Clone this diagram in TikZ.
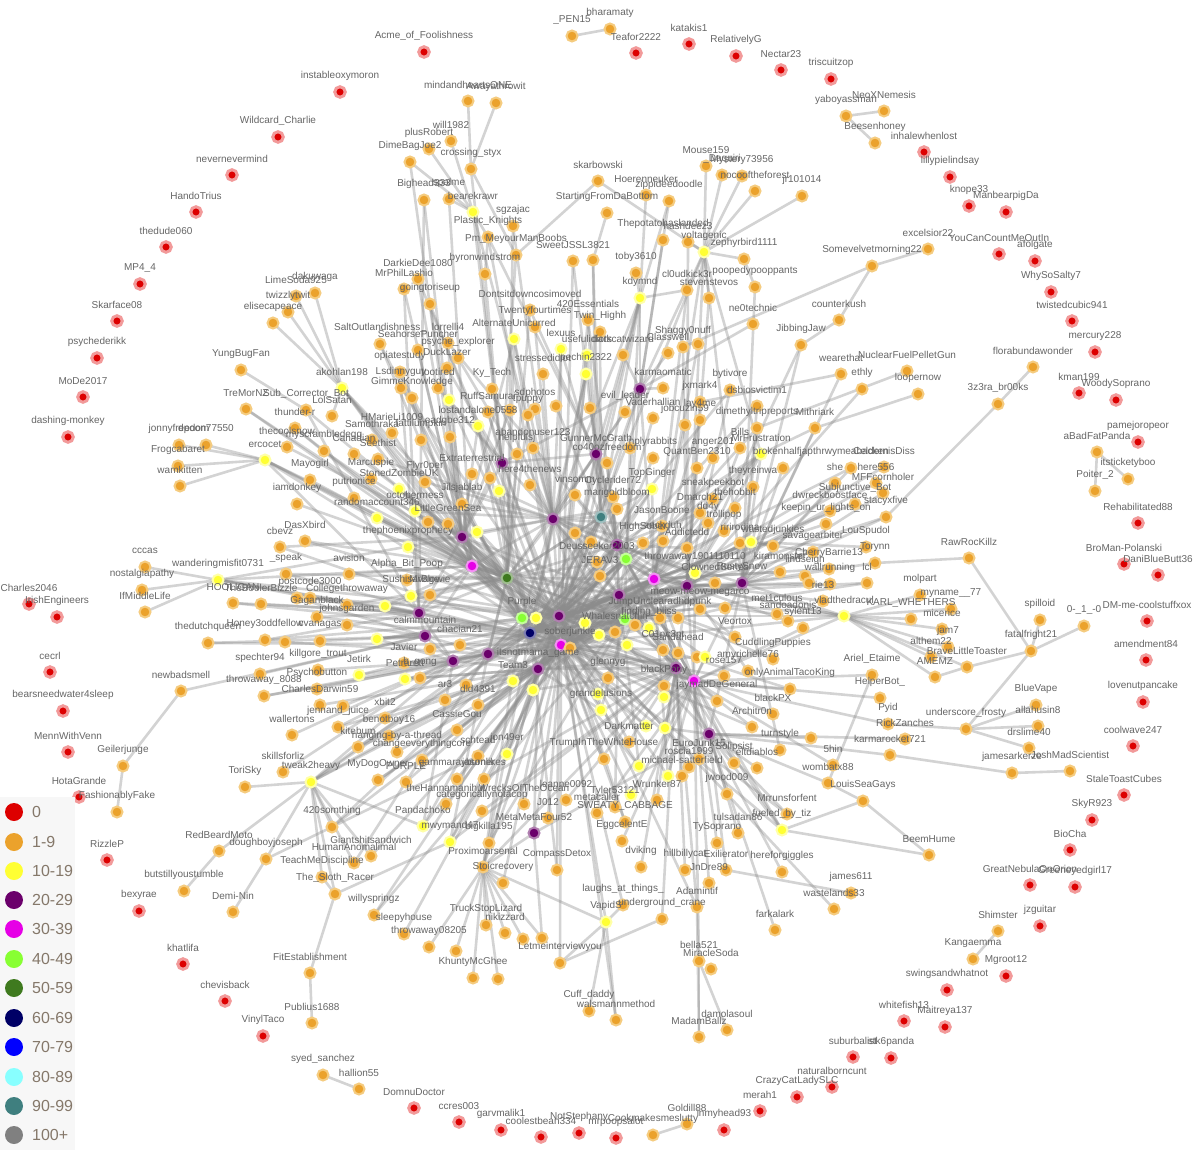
\documentclass[tikz,border=0pt]{standalone}
\usepackage{fontspec}
\setmainfont{Liberation Sans}
\definecolor{cR}{HTML}{DD0000}\definecolor{cRh}{HTML}{F29A9A}
\definecolor{cO}{HTML}{EBA22C}\definecolor{cOh}{HTML}{F5CC80}
\definecolor{cY}{HTML}{FFFF33}\definecolor{cYh}{HTML}{FFFFA8}
\definecolor{cP}{HTML}{6B006B}\definecolor{cPh}{HTML}{B07FB0}
\definecolor{cM}{HTML}{E600E6}\definecolor{cMh}{HTML}{F390F3}
\definecolor{cG}{HTML}{88FF33}\definecolor{cGh}{HTML}{C4FF99}
\definecolor{cD}{HTML}{3F7A1F}\definecolor{cDh}{HTML}{9FBD8F}
\definecolor{cN}{HTML}{000066}\definecolor{cNh}{HTML}{7F7FB2}
\definecolor{cT}{HTML}{3F7F7F}\definecolor{cTh}{HTML}{9FBFBF}
\definecolor{cB}{HTML}{0000FF}\definecolor{cC}{HTML}{88FFFF}\definecolor{cGr}{HTML}{808080}
\definecolor{labc}{HTML}{666666}\definecolor{legc}{HTML}{85786A}
\pgfdeclarelayer{edgelayer}\pgfdeclarelayer{labellayer}
\pgfsetlayers{edgelayer,main,labellayer}
\tikzset{
 nd/.style={circle,inner sep=0pt,minimum size=11pt,line width=2pt},
 ndR/.style={nd,fill=cR,draw=cRh,minimum size=10.5pt,line width=3pt},
 ndO/.style={nd,fill=cO,draw=cOh},
 ndY/.style={nd,fill=cY,draw=cYh},
 ndP/.style={nd,fill=cP,draw=cPh},
 ndM/.style={nd,fill=cM,draw=cMh},
 ndG/.style={nd,fill=cG,draw=cGh},
 ndD/.style={nd,fill=cD,draw=cDh},
 ndN/.style={nd,fill=cN,draw=cNh},
 ndT/.style={nd,fill=cT,draw=cTh},
 edge/.style={draw=black!45,opacity=0.38,line width=2.6pt},
 lab/.style={text=labc,font=\fontsize{10}{10}\selectfont,inner sep=0pt},
 legdot/.style={circle,inner sep=0pt,minimum size=18pt},
 legtxt/.style={text=legc,font=\fontsize{16}{16}\selectfont,anchor=west,inner sep=0pt}
}
\newcommand{\drawN}[6]{\node[nd#4] (#1) at (#2,#3) {};}
\newcommand{\edgeN}[6]{\if\relax\detokenize{#6}\relax\else\foreach \hh in {#6}{\draw[edge] (#1.center) -- (\hh.center);}\fi}
\newcommand{\labN}[6]{\if\relax\detokenize{#5}\relax\else\node[lab] (#1t) at (#2,#3-16) {#5};\fi}
\newcommand{\E}[2]{\foreach \hh in {#2}{\draw[edge] (#1.center) -- (\hh.center);}}
\newcommand{\extraedges}{%
\E{c1}{q98,q102,q105,q135,y9,y10,q139,q151,c20,c22,c4,c7,c10,c21,c12}
\E{c3}{q141,y8,c5,c6,c16,c9,c10,q145,y11,q150}
\E{c4}{c8,c9,c10,c11,c27,y9,y12,q155,c21}
\E{c7}{c10,c11,c12,c13,c21,c25,c26,q139}
\E{c8}{c3,c12,c13,c19,c20,c22,c4,c5,y8}
\E{c9}{c3,c4,c5,c6,c11,c12,c20,c21,c22}
\E{c10}{c3,c4,c7,c19,c20,c22,c13}
\E{c11}{c19,c20,c3,c9,c22,c25,c27}
\E{c16}{c7,c8,c9,c10,c22,c21,c3,c20}
\E{c18}{c8,c9,c10,c21,c22,c3,c4,c7}
\E{c19}{c8,c9,c10,c11,c21,c22}
\E{c20}{c7,c8,c9,c10,c21,c4,c5}
\E{c22}{c9,c10,c21,c25}
\E{c27}{c7,c22,c4,c3,c20}
\E{c25}{c8,c9,c11,c21,c22}
\E{c13}{c8,c9,c21,c22,c10}
\E{c12}{c8,c9,c10,c21,c22}
\E{c2}{c8,c9,c20,c11}
\E{c14}{c11,c8,c10}
\E{c15}{c8,c20,c4}
\E{c5}{c8,c10,c9,c21}
\E{c6}{c8,c9,c10,c22}
\E{yA}{c8,c10}\E{yB}{c8,c9}\E{yC}{c8,c9,c10}\E{yD}{c10,c22}
\E{yE}{c8,c4}\E{yG}{c8,c9,c20}\E{yH}{c8,c9,c16}\E{yI}{c8,c9}
\E{yJ}{c8,c9}\E{yK}{c9,c16}\E{yM}{c8}\E{yN}{c10}\E{s1}{c10,c21}
\E{q165}{c8}\E{q168}{c9}\E{q188}{c8}\E{q189}{c10}\E{q192}{c9}\E{q196}{c8}
\E{q199}{c10}\E{q204}{c9}\E{q207}{c8}\E{q208}{c9}\E{q31}{c8}\E{q33}{c9}
\E{q39}{c10}\E{q43}{c21}\E{q45}{c8}\E{q49}{c9}\E{q40}{c20}\E{q84}{c8}
\E{q86}{c9}\E{q90}{c10}\E{q110}{c8}\E{q113}{c9}\E{q116}{c10}\E{q60}{c8}
\E{q72}{c9}\E{q59}{c10}\E{q35}{c8}\E{q14}{c9}\E{q10}{c11}\E{q09}{c8}
\E{q220}{c9}\E{q230}{c8}\E{q233}{c10}\E{q238}{c22}\E{q250}{c8}\E{q255}{c22}
\E{q278}{c8}\E{q282}{c9}\E{q284}{c8}\E{q288}{c10}\E{q292}{c9}\E{q300}{c8}
\E{q265}{c10}\E{q269}{c8}\E{q274}{c10}\E{q291}{c8}\E{q264}{c22}\E{q226}{c4}
\E{y27}{c4,c10}\E{y28}{c22}\E{y29}{c10}\E{y30}{c8}\E{y23}{c10}\E{y24}{c8}
\E{y19}{c9}\E{y20}{c8}\E{y14}{c10}\E{y15}{c9}\E{y16}{c10}\E{y17}{c9}
\E{y1}{c8}\E{y2}{c9}\E{y3}{c10}\E{y4}{c8}\E{y5}{c9}\E{y6}{c10}\E{y7}{c8}
}
\newcommand{\nodelist}{%
% outer ring
\N{r01}{424}{52}{R}{Acme\_of\_Foolishness}{}
\N{r02}{340}{92}{R}{instableoxymoron}{}
\N{r03}{278}{137}{R}{Wildcard\_Charlie}{}
\N{r04}{232}{175}{R}{nevernevermind}{}
\N{r05}{196}{212}{R}{HandoTrius}{}
\N{r06}{166}{247}{R}{thedude060}{}
\N{r07}{140}{284}{R}{MP4\_4}{}
\N{r08}{117}{321}{R}{Skarface08}{}
\N{r09}{97}{358}{R}{psychederikk}{}
\N{r10}{83}{397}{R}{MoDe2017}{}
\N{r11}{68}{437}{R}{dashing-monkey}{}
\N{r12}{29}{604}{R}{Charles2046}{}
\N{r13}{57}{617}{R}{IrishEngineers}{}
\N{r14}{50}{672}{R}{cecrl}{}
\N{r15}{63}{711}{R}{bearsneedwater4sleep}{}
\N{r16}{68}{752}{R}{MennWithVenn}{}
\N{r17}{79}{797}{R}{HotaGrande}{}
\N{r18}{107}{860}{R}{RizzleP}{}
\N{r19}{139}{911}{R}{bexyrae}{}
\N{r20}{183}{964}{R}{khatlifa}{}
\N{r21}{225}{1001}{R}{chevisback}{}
\N{r22}{263}{1036}{R}{VinylTaco}{}
\N{r23}{414}{1108}{R}{DomnuDoctor}{}
\N{r24}{459}{1122}{R}{ccres003}{}
\N{r25}{501}{1130}{R}{garvmalik1}{}
\N{r26}{541}{1137}{R}{coolestbean334}{}
\N{r27}{579}{1133}{R}{NotStephany}{}
\N{r28}{616}{1138}{R}{mrpoopsalot}{}
\N{r29}{724}{1130}{R}{inmyhead93}{}
\N{r30}{760}{1111}{R}{merah1}{}
\N{r31}{797}{1097}{R}{CrazyCatLadySLC}{}
\N{r32}{832}{1087}{R}{naturalborncunt}{}
\N{r33}{853}{1057}{R}{suburbalist}{}
\N{r34}{891}{1058}{R}{stk6panda}{}
\N{r35}{904}{1021}{R}{whitefish13}{}
\N{r36}{945}{1027}{R}{Maitreya137}{}
\N{r37}{947}{990}{R}{swingsandwhatnot}{}
\N{r38}{1006}{976}{R}{Mgroot12}{}
\N{r39}{1040}{926}{R}{jzguitar}{}
\N{r40}{1030}{885}{R}{GreatNebulaOnOrion}{}
\N{r41}{1075}{887}{R}{Greeneyedgirl17}{}
\N{r42}{1070}{850}{R}{BioCha}{}
\N{r43}{1092}{820}{R}{SkyR923}{}
\N{r44}{1124}{795}{R}{StaleToastCubes}{}
\N{r45}{1133}{746}{R}{coolwave247}{}
\N{r46}{1143}{702}{R}{lovenutpancake}{}
\N{r47}{1146}{660}{R}{amendment84}{}
\N{r48}{1147}{621}{R}{DM-me-coolstuffxox}{}
\N{r49}{1158}{575}{R}{DaniBlueButt36}{}
\N{r50}{1124}{564}{R}{BroMan-Polanski}{}
\N{r51}{1138}{523}{R}{Rehabilitated88}{}
\N{r52}{1138}{442}{R}{pamejoropeor}{}
\N{r53}{1116}{400}{R}{WoodySoprano}{}
\N{r54}{1079}{393}{R}{kman199}{}
\N{r55}{1095}{352}{R}{mercury228}{}
\N{r56}{1072}{321}{R}{twistedcubic941}{}
\N{r57}{1051}{292}{R}{WhySoSalty7}{}
\N{r58}{1035}{261}{R}{afolgate}{}
\N{r59}{999}{254}{R}{YouCanCountMeOutIn}{}
\N{r60}{1006}{212}{R}{ManbearpigDa}{}
\N{r61}{969}{206}{R}{knope33}{}
\N{r62}{950}{177}{R}{lillypielindsay}{}
\N{r63}{924}{152}{R}{inhalewhenlost}{}
\N{r64}{831}{79}{R}{triscuitzop}{}
\N{r65}{781}{70}{R}{Nectar23}{}
\N{r66}{736}{56}{R}{RelativelyG}{}
\N{r67}{689}{44}{R}{katakis1}{}
\N{r68}{636}{53}{R}{Teafor2222}{}
% centre hubs
\N{c1}{553}{519}{P}{}{c2,c3,c11,c13,c19,c8}
\N{c2}{596}{454}{P}{GunnerMcGrath}{c19,c3,c15,c1}
\N{c3}{617}{545}{P}{}{c4,c7,c20,c19,c8}
\N{c4}{654}{579}{M}{}{c5,c7,c22,c16,c18}
\N{c5}{687}{586}{P}{}{c6,c16,c18,c22}
\N{c6}{742}{583}{P}{RustySnow}{c16,c17,yH}
\N{c7}{619}{595}{P}{}{c8,c22,c9,c16,c18}
\N{c8}{559}{616}{P}{}{c9,c10,c21,c11,c27}
\N{c9}{561}{645}{M}{}{c10,c27,c25,c18,c28}
\N{c10}{530}{633}{N}{}{c21,c25,c27}
\N{c11}{507}{578}{D}{}{c12,c13,c21,c23}
\N{c12}{472}{566}{M}{}{c13,c23,c24}
\N{c13}{462}{537}{P}{}{c14,c23}
\N{c14}{502}{463}{P}{}{c15,c2}
\N{c15}{640}{389}{P}{}{c19}
\N{c16}{694}{681}{M}{}{c17,c18}
\N{c17}{709}{734}{P}{}{c18,c28}
\N{c18}{676}{668}{P}{}{c27}
\N{c19}{601}{517}{T}{}{c20}
\N{c20}{626}{559}{G}{}{c22}
\N{c21}{522}{618}{G}{Purple}{c25}
\N{c22}{625}{619}{G}{}{}
\N{c23}{419}{613}{P}{}{c24,c26}
\N{c24}{425}{636}{P}{calmmountain}{c26,c25}
\N{c25}{488}{654}{P}{}{c26,c27}
\N{c26}{453}{661}{P}{}{c27}
\N{c27}{538}{669}{P}{itsnotmama\_game}{c28}
\N{c28}{534}{833}{P}{MetaMetaFour52}{}
% peripheral orange clusters
\N{o01}{572}{36}{O}{\_PEN15}{o02}
\N{o02}{610}{29}{O}{bharamaty}{}
\N{o03}{846}{116}{O}{yaboyassman}{o04,o05}
\N{o04}{884}{111}{O}{NeoXNemesis}{}
\N{o05}{875}{143}{O}{Beesenhoney}{}
\N{o06}{928}{249}{O}{excelsior22}{o07}
\N{o07}{872}{266}{O}{Somevelvetmorning22}{o08,q56}
\N{o08}{839}{320}{O}{counterkush}{o09}
\N{o09}{801}{345}{O}{JibbingJaw}{c6,c5}
\N{o10}{841}{374}{O}{wearethat}{c6,q62}
\N{o11}{907}{371}{O}{NuclearFuelPelletGun}{q72}
\N{o12}{862}{389}{O}{ethly}{c5}
\N{o13}{918}{394}{O}{loopernow}{q73}
\N{o14}{1033}{367}{O}{florabundawonder}{o15}
\N{o15}{998}{404}{O}{3z3ra\_br00ks}{q90}
\N{o16}{1097}{452}{O}{aBadFatPanda}{o17,o18}
\N{o17}{1128}{479}{O}{itsticketyboo}{}
\N{o18}{1095}{491}{O}{Poiter\_2}{}
\N{o19}{969}{558}{O}{RawRocKillz}{q112,o22}
\N{o20}{1040}{620}{O}{spilloid}{o22}
\N{o21}{1084}{626}{O}{0-\_1\_-0}{o22}
\N{o22}{1031}{651}{O}{fatalfright21}{o23,q124}
\N{o23}{966}{729}{O}{underscore\_frosty}{o24,o25,o26,q128}
\N{o24}{1036}{705}{O}{BlueVape}{}
\N{o25}{1038}{726}{O}{allahusin8}{}
\N{o26}{1029}{748}{O}{drslime40}{}
\N{o27}{1012}{773}{O}{jamesarkerze}{o28,q130}
\N{o28}{1070}{771}{O}{JoshMadScientist}{}
% top region
\N{q01}{468}{101}{O}{mindandheartsONE}{q05}
\N{q02}{496}{103}{O}{Awayathrowit}{q05}
\N{q03}{451}{141}{O}{will1982}{yF}
\N{q04}{429}{149}{O}{plusRobert}{yF}
\N{q05}{471}{169}{O}{crossing\_styx}{q11,c14}
\N{q06}{410}{162}{O}{DimeBagJoe2}{yF,c13}
\N{q07}{424}{200}{O}{Bighead333}{c13,c23}
\N{q08}{449}{199}{O}{spalme}{yF,c12}
\N{yF}{473}{212}{Y}{bearekrawr}{c14,c1,q09}
\N{q09}{488}{237}{O}{Plastic\_Knights}{c2}
\N{q10}{513}{226}{O}{sgzajac}{c1}
\N{q11}{516}{255}{O}{Pm\_MeyourManBoobs}{q12,c14}
\N{q12}{598}{181}{O}{skarbowski}{yE}
\N{q13}{607}{213}{O}{StartingFromDaBottom}{q15}
\N{q14}{573}{261}{O}{SweetJSSL3821}{c2}
\N{q15}{593}{260}{O}{}{c2,c19}
\N{q16}{646}{195}{O}{Hoerenneuker}{yG}
\N{q17}{669}{201}{O}{zippideedoodle}{yG,c15}
\N{q18}{663}{240}{O}{Thepotatohaslanded}{c15}
\N{q19}{688}{242}{O}{hashdeez3}{yE,c5}
\N{yE}{704}{252}{Y}{voltagenic}{c15,c6,yI,c5}
\N{q20}{706}{166}{O}{Mouse159}{yE}
\N{q21}{722}{175}{O}{\_Daquiri}{yE}
\N{q22}{742}{176}{O}{Mystery73956}{yE}
\N{q23}{755}{191}{O}{nocooftheforest}{yE}
\N{q24}{802}{196}{O}{jr101014}{yE}
\N{q25}{744}{259}{O}{zephyrbird1111}{yE}
\N{q26}{755}{287}{O}{poopedypooppants}{q25,c6}
\N{q27}{687}{290}{O}{cl0udkick3r}{yG,c4}
\N{q28}{709}{298}{O}{stevenstevos}{yE,c5}
\N{q29}{636}{273}{O}{toby3610}{yG}
\N{yG}{640}{298}{Y}{kdymnd}{c2,c15,c19,c1}
\N{q30}{485}{274}{O}{byronwindstrom}{q09,c14}
\N{q31}{418}{279}{O}{DarkieDee1080}{c13}
\N{q32}{404}{289}{O}{MrPhilLashio}{c13,c23}
\N{q33}{430}{304}{O}{goingtoriseup}{c12}
\N{q34}{530}{310}{O}{Dontsitdowncosimoved}{c2,c11}
\N{q35}{588}{320}{O}{420Essentials}{c2,c3}
\N{q36}{535}{327}{O}{Twentyfourtimes}{c1}
\N{q37}{600}{332}{O}{Twin\_Highh}{c19}
\N{y1}{514}{339}{Y}{AlternateUnicurred}{c1,c13,c11}
\N{q39}{380}{344}{O}{SaltOutlandishness\_}{c12}
\N{q40}{448}{343}{O}{lorrelli4}{c13}
\N{q41}{418}{350}{O}{SeahorsePuncher}{c13}
\N{q42}{458}{358}{O}{psyche\_explorer}{c1}
\N{q43}{400}{372}{O}{opiatestudy}{c13}
\N{q44}{447}{368}{O}{DuckLazer}{c14}
\N{q45}{401}{388}{O}{Lsdinnyguy}{c23}
\N{q46}{412}{398}{O}{GimmeKnowledge}{c12}
\N{q47}{438}{388}{O}{tootired}{c14}
\N{y2}{449}{400}{Y}{}{c1,c12}
\N{q48}{492}{389}{O}{Ky\_Tech}{c1}
\N{q49}{488}{412}{O}{RuffSamurai}{c14}
\N{y3}{478}{426}{Y}{lostandalone0558}{c13,c11}
\N{q51}{450}{437}{O}{eadgbe312}{c13}
\N{y4}{561}{349}{Y}{lexuus}{c1,c3}
\N{y5}{587}{355}{Y}{usefulidiots}{c19}
\N{q53}{623}{355}{O}{darkcatwizard}{c15}
\N{y6}{586}{374}{Y}{pechin2322}{c1,c8}
\N{q54}{543}{374}{O}{stressedidiot}{c1}
\N{q55}{668}{353}{O}{Classwell}{c15}
\N{q56}{683}{347}{O}{Shaggy0nuff}{c5}
\N{q57}{698}{344}{O}{}{c4}
\N{q58}{753}{324}{O}{ne0technic}{c15}
\N{q59}{730}{390}{O}{bytivore}{c5}
\N{q60}{757}{406}{O}{dsbiosvictim1}{c6}
\N{q61}{663}{388}{O}{karmaomatic}{c15}
\N{q62}{700}{402}{O}{jxmark4}{c5}
\N{q63}{700}{420}{O}{lay4me}{c4}
\N{q64}{535}{409}{O}{sdphotos}{c1}
\N{q65}{528}{415}{O}{tpuppy}{c11}
\N{q66}{510}{410}{O}{}{c13}
\N{q67}{556}{406}{O}{}{c19}
\N{q68}{590}{408}{O}{}{c3}
\N{q69}{625}{412}{O}{evil\_leader}{c2}
\N{q70}{653}{418}{O}{Vaderhallian}{c3}
\N{q71}{685}{425}{O}{jobcuzin59}{c4}
\N{q72}{757}{428}{O}{dimethyltripreports}{c6}
\N{q73}{815}{428}{O}{Mithriark}{c6,yI}
\N{q74}{533}{448}{O}{abandonuser123}{c1}
\N{q75}{517}{454}{O}{helpfulsj}{c11}
\N{q77}{607}{463}{O}{co40ozfreedom}{c3}
\N{q78}{630}{448}{O}{}{c20}
\N{q79}{653}{458}{O}{nplyrabbits}{c3}
\N{q80}{713}{458}{O}{anger201}{c4}
\N{q80b}{697}{468}{O}{QuantBen2310}{c5}
\N{q81}{740}{448}{O}{Bills}{c5}
\N{yI}{761}{454}{Y}{MrFrustration}{c5,c4,c3,c6}
\N{q83}{783}{468}{O}{brokenhalfjap}{c6}
\N{q84}{851}{468}{O}{thrwymeabacken}{c6}
\N{q85}{884}{467}{O}{CeldernisDiss}{yJ}
\N{q86}{835}{483}{O}{she}{c6}
\N{q87}{876}{483}{O}{here556}{c5}
\N{q88}{883}{493}{O}{MFFcornholer}{c6}
\N{q89}{855}{504}{O}{Subjunctive\_Bot}{c4}
\N{q90}{886}{517}{O}{stacyxfive}{c6}
\N{q91}{830}{511}{O}{dwreckboostface}{c5}
\N{q92}{826}{524}{O}{keepin\_ur\_lights\_on}{c4}
\N{q93}{735}{508}{O}{thehobbit}{c5}
\N{q94}{753}{487}{O}{theyreinwa}{c4}
\N{q95}{530}{485}{O}{here4thenews}{c1}
\N{q96}{490}{478}{O}{}{c13}
\N{c14x}{472}{474}{O}{Extraterrestrial}{c13}
% centre ring
\N{y7}{652}{489}{Y}{TopGinger}{c3,c4,c19}
\N{q98}{575}{495}{O}{vinsomm}{c3}
\N{q99}{613}{497}{O}{Cyclerider72}{c7}
\N{q100}{713}{499}{O}{sneakpeekbot}{c4}
\N{q101}{700}{513}{O}{Dmarch21}{c3}
\N{q102}{617}{509}{O}{marigoldbloom}{c8}
\N{q103}{708}{523}{O}{dd4y}{c7}
\N{q104}{724}{531}{O}{trollipop}{c4}
\N{q105}{662}{526}{O}{JasonBoone}{c8}
\N{q106}{663}{541}{O}{zackduh}{c20}
\N{q107}{740}{543}{O}{ririrodina}{c5}
\N{q108}{687}{548}{O}{Addictedd}{c3}
\N{yJ}{751}{542}{Y}{}{c4,c5,c7}
\N{q109}{773}{546}{O}{wastedjunkies}{yJ}
\N{q110}{813}{552}{O}{savagearbiter}{yJ}
\N{q111}{866}{547}{O}{LouSpudol}{yJ}
\N{q112}{875}{563}{O}{Torynn}{c6}
\N{q113}{780}{572}{O}{kiramonster}{c4}
\N{q114}{805}{576}{O}{lindseigh}{c6}
\N{q115}{830}{584}{O}{wallrunning}{c5}
\N{q116}{867}{583}{O}{lcl}{c7}
\N{q117}{823}{601}{O}{rie13}{c4}
\N{yH}{844}{616}{Y}{vladthedracul}{c7,c4,c5}
\N{q118}{920}{595}{O}{molpart}{yH}
\N{q119}{951}{609}{O}{myname\_\_77}{yH}
\N{q120}{911}{619}{O}{KARL\_WHETHERS}{yH}
\N{q121}{942}{629}{O}{micerice}{yH}
\N{q122}{948}{647}{O}{jam7}{yH}
\N{q123}{931}{657}{O}{althem22}{yH}
\N{q124}{967}{667}{O}{BraveLittleToaster}{yH,q125}
\N{q125}{935}{677}{O}{AMEMZ}{yH}
\N{q126}{872}{675}{O}{Ariel\_Etaime}{c16,q133}
\N{q127}{880}{698}{O}{HelperBot\_}{c16}
\N{q128}{888}{724}{O}{Pyid}{c16}
\N{q129}{905}{739}{O}{RickZanches}{c17}
\N{q130}{890}{755}{O}{karmarocket721}{c17}
\N{q131}{811}{738}{O}{}{c17}
\N{q132}{833}{765}{O}{5hin}{c16}
\N{q133}{828}{783}{O}{wombatx88}{c17}
\N{q134}{863}{801}{O}{LouisSeaGays}{q133,yK}
\N{q135}{643}{543}{O}{HighSober}{c8}
\N{q136}{591}{542}{O}{}{c4}
\N{q137}{575}{533}{O}{}{c7}
\N{q138}{597}{562}{O}{Deusseeker2003}{c9}
\N{q139}{600}{576}{O}{JERAV3}{c10}
\N{y8}{695}{573}{Y}{throwaway1901110110}{c7,c3,c16}
\N{q141}{715}{583}{O}{ClownedSeries}{c7}
\N{q142}{809}{583}{O}{}{c5}
\N{q143}{829}{569}{O}{CherryBarrie13}{c4}
\N{q144}{700}{609}{O}{meow-meow-megarco}{c8}
\N{q145}{660}{618}{O}{JumpUnclearadhdpunk}{c10}
\N{q146}{777}{614}{O}{met1culous}{c7}
\N{q147}{788}{621}{O}{sandoadonis}{c5}
\N{q148}{803}{628}{O}{sylent13}{c16}
\N{q149}{725}{608}{O}{}{c9}
\N{q150}{735}{637}{O}{Veortox}{c7}
\N{q151}{615}{632}{O}{Whalesnatchin}{c11}
\N{q152}{678}{618}{O}{}{c8}
\N{y9}{536}{618}{Y}{}{c3,c7,c25}
\N{y10}{585}{623}{Y}{}{c4,c11,c27}
\N{q154}{635}{625}{O}{}{c9}
\N{y11}{649}{628}{Y}{finding\_bliss}{c9,c8,c17}
\N{q155}{570}{648}{O}{soberjunkie}{c7}
\N{y12}{599}{635}{Y}{}{c10,c16,c26}
\N{y13}{627}{645}{Y}{}{c8,c25,c17}
\N{q156}{663}{650}{O}{C01nc3nt}{c9}
\N{q157}{697}{657}{O}{}{c27}
\N{q158}{773}{659}{O}{CuddlingPuppies}{c7}
% left region
\N{q160}{296}{296}{O}{LimeSoda925}{yA}
\N{q161}{315}{293}{O}{dakuwaga}{yA}
\N{q162}{288}{312}{O}{twizzlytwit}{yA}
\N{q163}{273}{323}{O}{elisecapeace}{yA}
\N{yA}{342}{388}{Y}{akohlan198}{c13,c12,c11}
\N{q164}{241}{370}{O}{YungBugFan}{q166}
\N{q165}{246}{409}{O}{TreMorNZ}{c12}
\N{q166}{306}{410}{O}{Sub\_Corrector\_Bot}{c23,c11}
\N{q167}{332}{416}{O}{LolSatan}{yA}
\N{q168}{295}{428}{O}{thunder-r}{c12}
\N{q169}{287}{447}{O}{thecoolsnow}{c13}
\N{q170}{324}{451}{O}{myscrambledegg}{c11}
\N{yB}{265}{460}{Y}{ercocet}{c12,c11,c23}
\N{q171}{179}{445}{O}{jonnyfreedom}{yB}
\N{q172}{206}{445}{O}{dpoon77550}{yB}
\N{q173}{178}{466}{O}{Frogcabaret}{yB}
\N{q174}{180}{486}{O}{wamkitten}{yB}
\N{q175}{354}{454}{O}{Canadian}{c13}
\N{q176}{378}{459}{O}{Seethist}{c1}
\N{q177}{392}{433}{O}{HMarieLi1009}{c13}
\N{q178}{372}{440}{O}{Samothraka}{c12}
\N{q179}{421}{440}{O}{fattilumpkin}{c11}
\N{q180}{297}{504}{O}{iamdonkey}{c11}
\N{q181}{310}{480}{O}{Mayogirl}{c12}
\N{q182}{354}{498}{O}{putrionice}{c11}
\N{q183}{371}{479}{O}{Marcuspie}{c13}
\N{q184}{425}{482}{O}{Flyr0per}{c1}
\N{y14}{399}{489}{Y}{StonedZombieUK}{c13,c11}
\N{y15}{415}{511}{Y}{octobermess}{c12,c1}
\N{q185}{428}{522}{O}{}{c11}
\N{q186}{462}{504}{O}{Jilsjablab}{c1}
\N{y16}{499}{491}{Y}{}{c11,c3}
\N{y17}{477}{532}{Y}{}{c1,c11}
\N{q187}{448}{524}{O}{LittleGreenSea}{c11}
\N{q188}{305}{541}{O}{DasXbird}{c12}
\N{q189}{280}{547}{O}{cbevz}{c13}
\N{q190}{377}{518}{Y}{randomaccount346}{c12,c11}
\N{q191}{408}{547}{Y}{thephoenixprophecy}{c11,c8}
\N{q192}{286}{574}{O}{\_speak}{c11}
\N{q193}{349}{574}{O}{avision}{c12}
\N{q194}{407}{580}{O}{Alpha\_Bit\_Poop}{c11}
\N{q195}{430}{595}{O}{MrBlowie}{c8}
\N{y18}{411}{596}{Y}{Sushisavage}{c11,c21}
\N{q196}{310}{598}{O}{postcode3000}{c23}
\N{q197}{347}{605}{O}{Collegethrowaway}{c11}
\N{q198}{261}{604}{O}{TheBoolerBizzle}{c23}
\N{yC}{218}{580}{Y}{wanderingmisfit0731}{c13,c23,c12}
\N{q199}{233}{603}{O}{HOOLIGAN}{c23}
\N{q200}{145}{567}{O}{cccas}{yC}
\N{q201}{142}{590}{O}{nostalgiapathy}{yC}
\N{q202}{145}{612}{O}{IfMiddleLife}{yC}
\N{q203}{297}{598}{O}{}{c24}
\N{q204}{317}{617}{O}{Gaganblack}{c23}
\N{y19}{385}{606}{Y}{}{c11,c12,c10}
\N{q205}{347}{625}{O}{johnsgarden}{c24}
\N{q206}{320}{641}{O}{cvanagas}{c24}
\N{q207}{265}{640}{O}{Honey3oddfellow}{c23}
\N{q208}{208}{643}{O}{thedutchqueen}{c24}
\N{q209}{285}{642}{O}{}{c25}
\N{y20}{377}{639}{Y}{}{c21,c26,c10}
\N{q210}{404}{663}{O}{Javier}{c25}
\N{q211}{430}{649}{O}{}{c8}
\N{q212}{460}{645}{O}{chacian21}{c10}
\N{q214}{318}{670}{O}{killgore\_trout}{c26}
\N{q215}{260}{674}{O}{spechter94}{c24}
\N{q216}{359}{675}{Y}{Jetirk}{c25,c10}
\N{q217}{420}{678}{O}{b\_gong}{c27}
\N{q218}{317}{689}{O}{Psychobutton}{c26}
\N{q219}{405}{679}{Y}{Petrarett}{c27,c9}
\N{q220}{264}{696}{O}{throwaway\_8088}{c25}
\N{q221}{320}{705}{O}{CharlesDarwin59}{c27}
\N{q222}{445}{700}{O}{ar3}{c9}
\N{q223}{466}{685}{O}{}{c25}
\N{q224}{513}{681}{Y}{Team3}{c9,c8}
\N{q225}{478}{705}{O}{dld4391}{c27}
\N{q226}{533}{690}{Y}{}{c8,c18}
\N{q227}{181}{691}{O}{newbadsmell}{c24}
\N{q228}{385}{718}{O}{xbit2}{c27}
\N{q229}{343}{706}{O}{}{c26}
\N{q230}{338}{727}{O}{jennand\_juice}{c27}
\N{q231}{389}{736}{O}{benotboy16}{c9}
\N{q232}{292}{735}{O}{wallertons}{c26}
\N{q233}{358}{747}{O}{kitebum}{c27}
\N{q234}{457}{730}{O}{CassieGou}{c9}
\N{q235}{397}{752}{O}{hanging-by-a-thread}{c27}
\N{q236}{422}{760}{O}{changeeverythingcore}{c9}
\N{q237}{478}{756}{O}{schtead}{c27}
\N{y21}{507}{754}{Y}{jon49er}{c9,c8,c27}
\N{q238}{378}{780}{O}{MyDogOwner}{c27}
\N{q239}{406}{782}{O}{PURPLE}{c9}
\N{q240}{457}{779}{O}{gammarayburner}{c9}
\N{q241}{484}{779}{O}{jasonlikes}{c18}
\N{q242}{123}{766}{O}{Geilerjunge}{q227,q243}
\N{q243}{117}{812}{O}{FashionablyFake}{}
\N{q244}{245}{787}{O}{ToriSky}{yD}
\N{yD}{311}{782}{Y}{tweak2heavy}{c26,c25,c9}
\N{q245}{283}{772}{O}{skillsforliz}{c26}
\N{q246}{219}{851}{O}{RedBeardMoto}{yD,q248}
\N{q247}{266}{859}{O}{doughboyjoseph}{yD,q249,q237}
\N{q248}{184}{891}{O}{butstillyoustumble}{}
\N{q249}{233}{912}{O}{Demi-Nin}{}
\N{q250}{332}{827}{O}{420somthing}{yD,c27}
\N{q251}{371}{856}{O}{Giantshitsandwich}{yD,c9}
\N{q252}{354}{863}{O}{HumanAnomalimal}{yD,c25}
\N{q253}{322}{877}{O}{TeachMeDiscipline}{yD,q254}
\N{q254}{335}{894}{O}{The\_Sloth\_Racer}{yD,yM,q257}
\N{q255}{374}{915}{O}{willyspringz}{c27}
\N{q256}{404}{934}{O}{sleepyhouse}{c9}
\N{q257}{310}{973}{O}{FitEstablishment}{q258}
\N{q258}{312}{1023}{O}{Publius1688}{}
\N{q259}{323}{1075}{O}{syed\_sanchez}{q260}
\N{q260}{359}{1089}{O}{hallion55}{}
\N{yN}{423}{826}{Y}{Pandachoko}{c9,c26,yD}
\N{yM}{450}{842}{Y}{mwymand47}{c9,c18,c25}
\N{q261}{446}{804}{O}{theHannamanihut}{c9}
\N{q262}{482}{811}{O}{categoricallynotacop}{c18}
\N{q263}{524}{804}{O}{WrecksOfTheOcean}{c9}
\N{q264}{489}{843}{O}{bigkilla195}{c27}
\N{s1}{483}{867}{O}{Proximoarsenal}{c9,c27,c18,c28,s2}
\N{s2}{503}{883}{O}{Stoicrecovery}{c8}
\N{q265}{557}{870}{O}{CompassDetox}{c8}
\N{q266}{548}{818}{O}{J012}{c9}
\N{q267}{597}{813}{O}{metacaller}{c16}
\N{q268}{566}{800}{O}{leanne0092}{c18}
\N{q269}{625}{822}{O}{SWEATY\_CABBAGE}{c9}
\N{q270}{622}{841}{O}{EggcelentE}{c16}
\N{q271}{641}{867}{O}{dviking}{c18}
\N{y22}{631}{795}{Y}{}{c9,c16}
\N{q272}{615}{807}{O}{Tyler53121}{c7}
\N{q273}{657}{800}{O}{Wrunker87}{c18}
\N{y23}{639}{766}{Y}{}{c9,c7}
\N{y24}{668}{776}{Y}{}{c4,c16}
\N{q274}{604}{759}{O}{TrumpInTheWhiteHouse}{c9}
\N{q275}{682}{776}{O}{michael-satterfield}{c18}
\N{q276}{699}{759}{O}{EuroJunk15}{c16}
\N{q277}{689}{767}{O}{roscia1999}{c17}
\N{q278}{727}{794}{O}{jwood009}{c17}
\N{q279}{734}{763}{O}{Solipsist}{c16}
\N{q280}{757}{768}{O}{eltdiablos}{c17}
\N{q281}{780}{750}{O}{turnstyle}{c6}
\N{q282}{752}{727}{O}{Architr0n}{c16}
\N{q283}{773}{714}{O}{blackPX}{c18}
\N{q284}{790}{689}{O}{onlyAnimalTacoKing}{c16}
\N{q285}{748}{671}{O}{amyrichelle76}{c5}
\N{q286}{724}{676}{O}{rose157}{c18}
\N{q287}{678}{653}{O}{Sandahead}{c7}
\N{q288}{717}{701}{O}{jaymadDeGeneral}{c16}
\N{q289}{664}{686}{O}{blackPony}{c9}
\N{y25}{705}{657}{Y}{}{c7,c16}
\N{y26}{664}{697}{Y}{}{c16,c9}
\N{q290}{608}{678}{O}{glennyg}{c9}
\N{y27}{598}{694}{Y}{}{c8,c18}
\N{y28}{601}{710}{Y}{grandelusions}{c9,c27}
\N{q291}{629}{742}{O}{Darkmatter}{c18}
\N{y29}{646}{726}{Y}{}{c16,c9}
\N{y30}{665}{728}{Y}{}{c18,c17}
\N{q292}{787}{814}{O}{Mrrunsforfent}{c17}
\N{yK}{782}{830}{Y}{fueled\_by\_tiz}{c17,c18,q313}
\N{q294}{738}{833}{O}{tulsadan86}{c17}
\N{q295}{717}{843}{O}{TySoprano}{c16}
\N{q296}{685}{870}{O}{hillbillycat}{c18}
\N{q297}{726}{870}{O}{Exilierator}{c17,q311}
\N{q298}{782}{872}{O}{hereforgiggles}{c17}
\N{q299}{709}{883}{O}{JnDre89}{c16}
\N{q300}{697}{907}{O}{Adamintif}{c18,q309}
\N{q301}{623}{905}{O}{laughs\_at\_things\_}{c9,yL}
\N{q302}{662}{919}{O}{underground\_crane}{c18,q305}
\N{yL}{606}{922}{Y}{VapidS}{c9,s1,q303,q304,q305}
\N{q303}{589}{1011}{O}{Cuff\_daddy}{}
\N{q304}{616}{1020}{O}{walsmannmethod}{c8}
\N{q305}{560}{963}{O}{Letmeinterviewyou}{c9}
\N{q306}{699}{961}{O}{bella521}{q309,q308,c16}
\N{q307}{711}{969}{O}{MiracleSoda}{}
\N{q308}{727}{1030}{O}{damolasoul}{}
\N{q309}{699}{1037}{O}{MadamBallz}{}
\N{q310}{775}{930}{O}{farkalark}{c17}
\N{q311}{851}{893}{O}{james611}{}
\N{q312}{834}{909}{O}{wastelands33}{q278}
\N{q313}{929}{855}{O}{BeemHume}{q134}
\N{q314}{998}{931}{O}{Shimster}{q315}
\N{q315}{973}{959}{O}{Kangaemma}{}
\N{q316}{687}{1124}{O}{Goldill88}{q317}
\N{q317}{653}{1135}{O}{Cookmakesmeslutty}{}
\N{q318}{486}{925}{O}{TruckStopLizard}{s1}
\N{q319}{505}{933}{O}{nikizzard}{s1}
\N{q320}{523}{939}{O}{}{s1}
\N{q321}{542}{938}{O}{}{s1,c28}
\N{q322}{429}{947}{O}{throwaway08205}{s1}
\N{q324}{473}{978}{O}{KhuntyMcGhee}{s1}
\N{q325}{498}{979}{O}{}{s1}
\N{q326}{456}{951}{O}{}{s1}
}
\begin{document}
\begin{tikzpicture}[x=1pt,y=-1pt]
\begin{pgfonlayer}{edgelayer}
\fill[white] (0,0) rectangle (1204,1150);
\end{pgfonlayer}
\path[use as bounding box] (0,0) rectangle (1204,1150);
\let\N\drawN \nodelist
\begin{pgfonlayer}{edgelayer}
\let\N\edgeN \nodelist
\extraedges
\end{pgfonlayer}
\begin{pgfonlayer}{labellayer}
\let\N\labN \nodelist
% legend
\fill[white!97!black] (0,797) rectangle (75,1150);
\foreach \yy/\cc/\tt [count=\i] in {812/cR/0,842/cO/1-9,871/cY/10-19,900/cP/20-29,929/cM/30-39,959/cG/40-49,988/cD/50-59,1018/cN/60-69,1047/cB/70-79,1077/cC/80-89,1106/cT/90-99,1135/cGr/100+}{
 \node[legdot,fill=\cc] (leg\i) at (14,\yy) {};
 \node[legtxt] (legt\i) at (32,\yy) {\tt};
}
\end{pgfonlayer}
\end{tikzpicture}
\end{document}
